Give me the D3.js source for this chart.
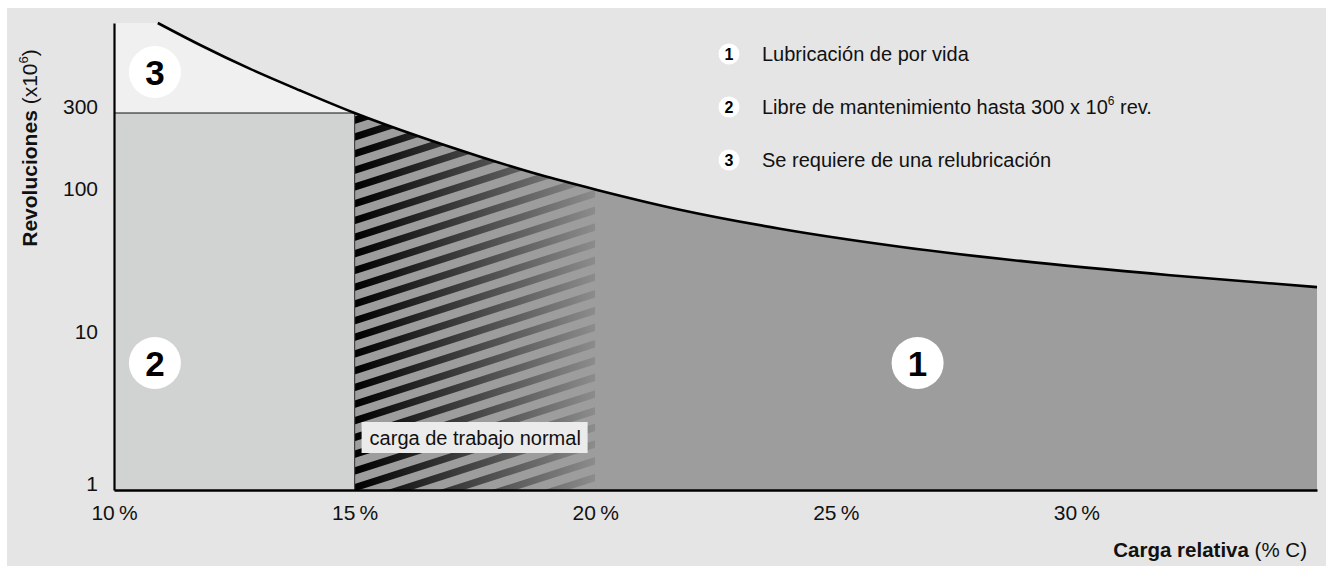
<!DOCTYPE html>
<html>
<head>
<meta charset="utf-8">
<script src="https://cdn.jsdelivr.net/npm/d3@7"></script>
<style>
  html, body { margin: 0; padding: 0; background: #ffffff; }
  svg { display: block; font-family: "Liberation Sans", Arial, Helvetica, sans-serif; }
</style>
</head>
<body>
<svg id="chart" width="1326" height="569"></svg>
<script>
// ---------- data ----------
const loadPct = [10.91, 11.79, 12.83, 13.87, 15.0, 16.36, 17.61, 18.85, 20.04, 21.76, 23.84, 26.33, 28.83, 31.95, 35.0];
const revolutions = [1000, 745, 541, 405, 300, 218, 167, 131, 107, 78.9, 58.1, 43.5, 34.6, 27.5, 22.7];
const yTicks = [1, 10, 100, 300];
const xTicks = [10, 15, 20, 25, 30];
const maintenanceLimit = 300;          // 300 x 10^6 rev
const normalLoadRange = [15, 20];      // % C
const xDomain = [10, 35];
const yDomain = [1, 1000];
const legendNumbers = ["1", "2", "3"];
const legendTexts = ["Lubricación de por vida", "Libre de mantenimiento hasta 300 x 10", "Se requiere de una relubricación"];
const zoneNumbers = ["3", "2", "1"];
const zonePct = [10.85, 10.85, 26.7];
const zoneRev = [519, 6.85, 6.85];

const svg = d3.select("#chart");

// ---------- scales ----------
const x = d3.scaleLinear().domain(xDomain).range([114, 1317]);
const y = d3.scaleLog().domain([1, 10, 100, 300, 1000]).range([490, 338, 195, 113, 23]);

// background panel
svg.append("rect").attr("x", 7).attr("y", 8).attr("width", 1319).attr("height", 558).attr("fill", "#e5e5e5");

const pts = loadPct.map((p, i) => [p, revolutions[i]]);
const defs = svg.append("defs");

// clip under the curve
const areaGen = d3.area().x(d => x(d[0])).y0(y(yDomain[0])).y1(d => y(d[1])).curve(d3.curveMonotoneX);
const cp = defs.append("clipPath").attr("id", "under");
cp.append("path").attr("d", areaGen(pts));
cp.append("rect").attr("x", x(xDomain[0])).attr("y", y(yDomain[1]))
  .attr("width", x(loadPct[0]) - x(xDomain[0]) + 1).attr("height", y(yDomain[0]) - y(yDomain[1]));

defs.append("clipPath").attr("id", "normalZone").append("rect")
  .attr("x", x(normalLoadRange[0])).attr("y", y(yDomain[1]))
  .attr("width", x(normalLoadRange[1]) - x(normalLoadRange[0])).attr("height", y(yDomain[0]) - y(yDomain[1]));

const grad = defs.append("linearGradient").attr("id", "stripeGrad")
  .attr("gradientUnits", "userSpaceOnUse")
  .attr("x1", x(normalLoadRange[0])).attr("x2", x(normalLoadRange[1])).attr("y1", 0).attr("y2", 0);
grad.append("stop").attr("offset", "0").attr("stop-color", "#000000");
grad.append("stop").attr("offset", "1").attr("stop-color", "#8c8c8c");

const zones = svg.append("g").attr("clip-path", "url(#under)");
// zone 3
zones.append("rect").attr("x", x(xDomain[0])).attr("y", y(yDomain[1]))
  .attr("width", x(normalLoadRange[0]) - x(xDomain[0])).attr("height", y(maintenanceLimit) - y(yDomain[1]))
  .attr("fill", "#f0f0f0");
// zone 2
zones.append("rect").attr("x", x(xDomain[0])).attr("y", y(maintenanceLimit))
  .attr("width", x(normalLoadRange[0]) - x(xDomain[0])).attr("height", y(yDomain[0]) - y(maintenanceLimit))
  .attr("fill", "#d1d2d2");
// zone 1 (incl. normal load base)
zones.append("rect").attr("x", x(normalLoadRange[0])).attr("y", y(yDomain[1]))
  .attr("width", x(xDomain[1]) - x(normalLoadRange[0])).attr("height", y(yDomain[0]) - y(yDomain[1]))
  .attr("fill", "#9d9d9d");
// stripes
const stripeG = zones.append("g").attr("clip-path", "url(#normalZone)");
const x0 = x(normalLoadRange[0]), x1 = x(normalLoadRange[1]);
const slope = 0.32, period = 16.7, thick = 7.5;
d3.range(-3, 30).forEach(k => {
  const yl = 116.5 + k * period;
  const dy = slope * (x1 - x0);
  stripeG.append("path")
    .attr("d", `M${x0},${yl} L${x1},${yl - dy} L${x1},${yl - dy + thick} L${x0},${yl + thick} Z`)
    .attr("fill", "url(#stripeGrad)");
});

// boundary lines
svg.append("line").attr("x1", x(xDomain[0])).attr("x2", x(normalLoadRange[0]))
  .attr("y1", y(maintenanceLimit)).attr("y2", y(maintenanceLimit))
  .attr("stroke", "#111").attr("stroke-width", 1.2);
svg.append("line").attr("x1", x(normalLoadRange[0])).attr("x2", x(normalLoadRange[0]))
  .attr("y1", y(maintenanceLimit)).attr("y2", y(yDomain[0]))
  .attr("stroke", "#444").attr("stroke-width", 1.2);

// curve
svg.append("path").attr("d", d3.line().x(d => x(d[0])).y(d => y(d[1])).curve(d3.curveMonotoneX)(pts))
  .attr("fill", "none").attr("stroke", "#000").attr("stroke-width", 2.6);

// axes
const yAxis = svg.append("g").attr("transform", `translate(${x(xDomain[0])},0)`)
  .call(d3.axisLeft(y).tickValues(yTicks).tickFormat(d3.format("d")).tickSize(0).tickPadding(16));
yAxis.select(".domain").attr("stroke", "#000").attr("stroke-width", 2.2);
yAxis.selectAll("text").attr("font-size", 21).attr("fill", "#111").attr("dy", "0.02em")
  .attr("font-family", "'Liberation Sans', Arial, sans-serif");

const xAxis = svg.append("g").attr("transform", `translate(0,${y(yDomain[0])})`)
  .call(d3.axisBottom(x).tickValues(xTicks).tickFormat(d => d + "\u2009%").tickSize(0).tickPadding(15));
xAxis.select(".domain").attr("stroke", "#000").attr("stroke-width", 2.6);
xAxis.selectAll("text").attr("font-size", 21).attr("fill", "#111")
  .attr("font-family", "'Liberation Sans', Arial, sans-serif");

// axis titles
const yt = svg.append("text").attr("transform", "translate(37,148) rotate(-90)")
  .attr("text-anchor", "middle").attr("font-size", 21).attr("fill", "#111");
yt.append("tspan").attr("font-weight", "bold").text("Revoluciones");
yt.append("tspan").text(" (x10");
yt.append("tspan").attr("font-size", 13).attr("dy", "-0.7em").text("6");
yt.append("tspan").attr("dy", "0.42em").text(")");

const xt = svg.append("text").attr("x", 1307).attr("y", 557)
  .attr("text-anchor", "end").attr("font-size", 20.5).attr("fill", "#111");
xt.append("tspan").attr("font-weight", "bold").text("Carga relativa");
xt.append("tspan").text(" (% C)");

// normal load label
svg.append("rect").attr("x", x(normalLoadRange[0]) + 7).attr("y", 422).attr("width", 226).attr("height", 31)
  .attr("fill", "#ebebeb");
svg.append("text").attr("x", x(normalLoadRange[0]) + 15).attr("y", 445).attr("font-size", 20)
  .attr("fill", "#111").text("carga de trabajo normal");

// zone badges
zoneNumbers.forEach((n, i) => {
  const g = svg.append("g").attr("transform", `translate(${x(zonePct[i])},${y(zoneRev[i])})`);
  g.append("circle").attr("r", 26).attr("fill", "#fff");
  g.append("text").attr("text-anchor", "middle").attr("dy", "0.36em").attr("font-size", 35)
    .attr("font-weight", "bold").attr("fill", "#000").text(n);
});

// legend
legendNumbers.forEach((n, i) => {
  const yy = 54 + i * 53;
  svg.append("circle").attr("cx", 729).attr("cy", yy).attr("r", 10.5).attr("fill", "#fff");
  svg.append("text").attr("x", 729).attr("y", yy).attr("dy", "0.36em").attr("text-anchor", "middle")
    .attr("font-size", 16).attr("font-weight", "bold").attr("fill", "#000").text(n);
  const t = svg.append("text").attr("x", 762).attr("y", yy).attr("dy", "0.36em").attr("font-size", 20).attr("fill", "#111");
  t.append("tspan").text(legendTexts[i]);
  if (i === 1) {
    t.append("tspan").attr("font-size", 12).attr("dy", "-0.75em").text("6");
    t.append("tspan").attr("dy", "0.45em").text(" rev.");
  }
});
</script>
</body>
</html>
